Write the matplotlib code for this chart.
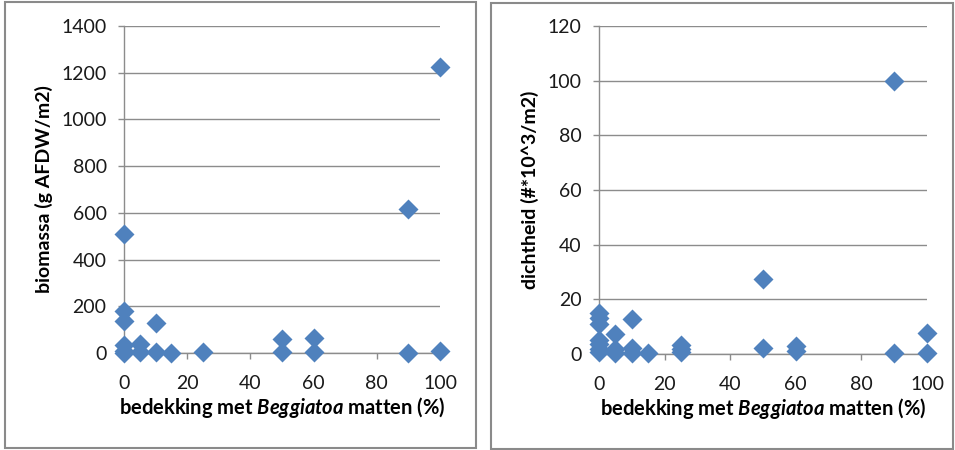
import numpy as np
import matplotlib.pyplot as plt
from matplotlib.patches import Rectangle

# bedekking (%) vs biomassa
bm_x = [0, 0, 0, 0, 0, 0, 5, 5, 10, 10, 15, 25, 50, 50, 60, 60, 90, 90, 100, 100]
bm_y = [508, 178, 135, 33, 8, 2, 38, 3, 130, 4, 2, 3, 58, 3, 63, 3, 617, 2, 1225, 10]

# bedekking (%) vs dichtheid
dh_x = [0, 0, 0, 0, 0, 0, 0, 5, 5, 5, 10, 10, 10, 15, 25, 25, 25, 50, 50, 60, 60, 90, 90, 100, 100]
dh_y = [15, 13, 11, 5, 3.5, 2, 0.6, 7.5, 2, 0.3, 12.8, 2.3, 0.3, 0.3, 3.3, 1.8, 0.8, 27.5, 2.2, 3, 1.2, 100, 0.3, 7.8, 0.3]

blue = '#4F81BD'
grid = '#8c8c8c'

plt.rcParams['font.family'] = ['Lato', 'DejaVu Sans']
plt.rcParams['mathtext.fontset'] = 'custom'
plt.rcParams['mathtext.it'] = 'Lato:bold:italic'
plt.rcParams['mathtext.rm'] = 'Lato:bold'

fig = plt.figure(figsize=(9.55, 4.5), dpi=100)

# panel borders
fig.patches.append(Rectangle((5/955, 2/450), 471/955, 446/450, transform=fig.transFigure,
                             fill=False, edgecolor='#8a8a8a', lw=1.5))
fig.patches.append(Rectangle((491/955, 1/450), 462/955, 446/450, transform=fig.transFigure,
                             fill=False, edgecolor='#8a8a8a', lw=1.5))

def style(ax, ymax, ystep, ylabel):
    ax.set_xlim(0, 100)
    ax.set_ylim(0, ymax)
    ax.set_xticks(np.arange(0, 101, 20))
    ax.set_yticks(np.arange(0, ymax + 1, ystep))
    ax.yaxis.grid(True, color=grid, lw=1)
    ax.set_axisbelow(True)
    for s in ['top', 'right']:
        ax.spines[s].set_visible(False)
    for s in ['left', 'bottom']:
        ax.spines[s].set_color(grid)
        ax.spines[s].set_linewidth(1)
    ax.tick_params(axis='y', length=4.5, color=grid, width=1, pad=8, labelsize=14, labelcolor='#1a1a1a')
    ax.tick_params(axis='x', length=4, color=grid, width=1, pad=12, labelsize=14, labelcolor='#1a1a1a')
    ax.set_ylabel(ylabel, fontsize=14, fontweight='bold', labelpad=6)
    ax.set_xlabel(r'bedekking met $\mathit{Beggiatoa}$ matten (%)', fontsize=14.5,
                  fontweight='bold', labelpad=2)

ax1 = fig.add_axes([124/955, 97/450, 316/955, 327/450])
ax1.plot(bm_x, bm_y, 'D', color=blue, ms=10.5, mec='none', clip_on=False, zorder=3)
style(ax1, 1400, 200, 'biomassa (g AFDW/m2)')

ax2 = fig.add_axes([599/955, 96/450, 328/955, 328/450])
ax2.plot(dh_x, dh_y, 'D', color=blue, ms=10.5, mec='none', clip_on=False, zorder=3)
style(ax2, 120, 20, 'dichtheid (#*10^3/m2)')

fig.savefig('out.png', dpi=100)
